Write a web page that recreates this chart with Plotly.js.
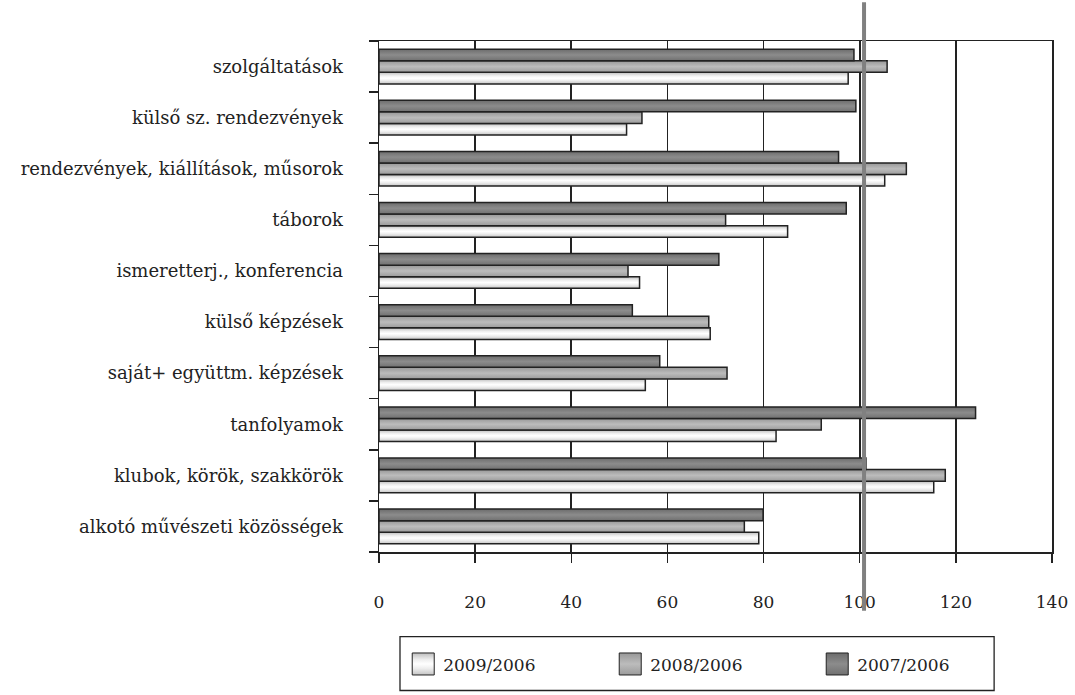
<!DOCTYPE html>
<html>
<head>
<meta charset="utf-8">
<script src="https://cdn.plot.ly/plotly-3.0.1.min.js"></script>
<style>html,body{margin:0;padding:0;background:#fff;}#chart{width:1075px;height:695px;}</style>
</head>
<body>
<div id="chart"></div>
<script>
// Categories, top to bottom as in the picture
const categories = [
  "szolgáltatások",
  "külső sz. rendezvények",
  "rendezvények, kiállítások, műsorok",
  "táborok",
  "ismeretterj., konferencia",
  "külső képzések",
  "saját+ együttm. képzések",
  "tanfolyamok",
  "klubok, körök, szakkörök",
  "alkotó művészeti közösségek"
];
const seriesNames = ["2009/2006", "2008/2006", "2007/2006"];
const values2009 = [97.6, 51.5, 105.2, 85.0, 54.2, 68.9, 55.4, 82.6, 115.4, 79.0];
const values2008 = [105.7, 54.7, 109.7, 72.1, 51.8, 68.6, 72.4, 92.0, 117.8, 76.0];
const values2007 = [98.8, 99.2, 95.6, 97.2, 70.7, 52.7, 58.4, 124.1, 101.3, 79.9];
const referenceValue = 100.9;
const xTicks = [0, 20, 40, 60, 80, 100, 120, 140];

const fillColors = ["#e6e6e6", "#ababab", "#7d7d7d"];
const FONT = "DejaVu Serif, Liberation Serif, serif";
const INK = "#222222";

const seriesValues = [values2009, values2008, values2007];
const traces = seriesValues.map((vals, i) => ({
  type: "bar",
  orientation: "h",
  name: seriesNames[i],
  x: vals,
  y: categories,
  marker: { color: fillColors[i], line: { color: INK, width: 1.5 } },
  hoverinfo: "x+y+name"
}));

const layout = {
  width: 1075,
  height: 695,
  margin: { l: 379, r: 23, t: 41, b: 141, pad: 0 },
  paper_bgcolor: "#ffffff",
  plot_bgcolor: "#ffffff",
  font: { family: FONT, size: 17, color: INK },
  barmode: "group",
  bargap: 0.32,
  bargroupgap: 0,
  showlegend: true,
  legend: {
    orientation: "h",
    x: 0.036, xanchor: "left",
    y: -0.22, yanchor: "middle",
    entrywidth: 162, entrywidthmode: "pixels",
    font: { family: FONT, size: 17, color: INK },
    bgcolor: "rgba(0,0,0,0)",
    borderwidth: 0,
    traceorder: "normal"
  },
  xaxis: {
    range: [0, 140],
    tickvals: xTicks,
    ticktext: xTicks.map(String),
    ticks: "outside", ticklen: 9, tickwidth: 1.5, tickcolor: INK,
    ticklabelstandoff: 25,
    showgrid: true, gridcolor: INK, gridwidth: 1.8,
    showline: true, linecolor: INK, linewidth: 1.5, mirror: true,
    zeroline: false,
    tickfont: { family: FONT, size: 17, color: INK },
    fixedrange: true
  },
  yaxis: {
    type: "category",
    categoryorder: "array",
    categoryarray: categories.slice().reverse(),
    ticks: "outside", tickson: "boundaries", ticklen: 9, tickwidth: 1.5, tickcolor: INK,
    ticklabelstandoff: 31,
    showgrid: false,
    showline: true, linecolor: INK, linewidth: 1.5, mirror: true,
    zeroline: false,
    tickfont: { family: FONT, size: 18, color: INK },
    fixedrange: true
  },
  shapes: [
    {
      type: "line", xref: "x", yref: "paper",
      x0: referenceValue, x1: referenceValue, y0: -0.115, y1: 1.076,
      line: { color: "#808080", width: 4 }, layer: "above"
    },
    {
      type: "rect", xref: "paper", yref: "paper",
      x0: 0.0312, x1: 0.914, y0: -0.271, y1: -0.1657,
      line: { color: INK, width: 1.3 }, fillcolor: "rgba(0,0,0,0)", layer: "above"
    }
  ]
};

Plotly.newPlot("chart", traces, layout, { displayModeBar: false, staticPlot: true }).then(gd => {
  try {
    const svg = gd.querySelector(".main-svg");
    const ns = "http://www.w3.org/2000/svg";
    let defs = svg.querySelector("defs");
    if (!defs) { defs = document.createElementNS(ns, "defs"); svg.insertBefore(defs, svg.firstChild); }
    const grads = [
      ["gLight", [[0, "#bdbdbd"], [0.3, "#eeeeee"], [0.5, "#ffffff"], [0.7, "#eeeeee"], [1, "#c4c4c4"]]],
      ["gMid", [[0, "#979797"], [0.5, "#bcbcbc"], [1, "#9b9b9b"]]],
      ["gDark", [[0, "#6c6c6c"], [0.5, "#8c8c8c"], [1, "#707070"]]]
    ];
    grads.forEach(([id, stops]) => {
      const lg = document.createElementNS(ns, "linearGradient");
      lg.setAttribute("id", id);
      lg.setAttribute("x1", "0"); lg.setAttribute("y1", "0");
      lg.setAttribute("x2", "0"); lg.setAttribute("y2", "1");
      stops.forEach(([o, c]) => {
        const s = document.createElementNS(ns, "stop");
        s.setAttribute("offset", o);
        s.setAttribute("stop-color", c);
        lg.appendChild(s);
      });
      defs.appendChild(lg);
    });
    const traceGroups = gd.querySelectorAll(".barlayer .trace.bars");
    traceGroups.forEach((g, i) => {
      g.querySelectorAll(".point path").forEach(p => { p.style.fill = "url(#" + grads[i][0] + ")"; });
    });
    const legendTraces = gd.querySelectorAll(".legend .traces");
    legendTraces.forEach((g, i) => {
      g.querySelectorAll(".legendpoints path").forEach(p => {
        p.style.fill = "url(#" + grads[i][0] + ")";
        p.setAttribute("d", "M11,11H-11V-11H11Z");
        p.style.strokeWidth = "1px";
      });
    });
  } catch (e) { console.log(e); }
});
</script>
</body>
</html>
